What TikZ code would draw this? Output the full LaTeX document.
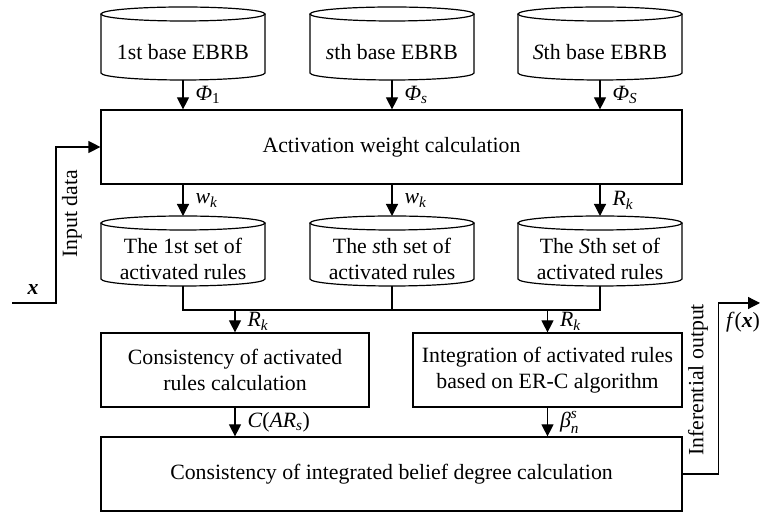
\documentclass[tikz,border=0pt]{standalone}
\usepackage{amsmath}
\usepackage{fontspec}
\setmainfont{Liberation Serif}
\usetikzlibrary{arrows.meta,calc}

% cylinder outline round a text node: #2 = centre of the top ellipse, #3 = end of the sides
\newcommand{\dbcyl}[3]{%
  \draw ($(#1)+(0,#2)$) ellipse[x radius=82, y radius=7];
  \draw ($(#1)+(-82,#2)$) -- ($(#1)+(-82,#3)$) arc[start angle=180, end angle=360, x radius=82, y radius=7] -- ($(#1)+(82,#2)$);
  \coordinate (#1-top) at ($(#1)+(0,#2+7)$);
  \coordinate (#1-bot) at ($(#1)+(0,#3-7)$);
}

\begin{document}
\begin{tikzpicture}[x=1pt, y=1pt, line width=1.2pt,
  font=\fontsize{21.8}{26}\selectfont,
  >={Triangle[length=12pt,width=12pt]},
  box/.style={draw, minimum height=74, align=center, inner sep=0pt},
  db/.style={minimum width=164, align=center, inner sep=0pt},
  lbl/.style={midway, right, xshift=10pt, inner sep=2pt}]
  \useasboundingbox (0,0) rectangle (760,513);

  % Base EBRBs
  \node[db] (b1) at (183,461) {1st base EBRB};
  \node[db] (b2) at (392,461) {\textit{s}th base EBRB};
  \node[db] (b3) at (600,461) {\textit{S}th base EBRB};
  \foreach \n in {b1,b2,b3} {\dbcyl{\n}{38}{-21}}

  % Activation weights
  \node[box, minimum width=581] (act) at (391.5,366) {Activation weight calculation};

  \draw[->] (b1-bot) -- (b1-bot |- act.north) node[lbl] {$\textit{Φ}_{\text{1}}$};
  \draw[->] (b2-bot) -- (b2-bot |- act.north) node[lbl] {$\textit{Φ}_{\textit{s}}$};
  \draw[->] (b3-bot) -- (b3-bot |- act.north) node[lbl] {$\textit{Φ}_{\textit{S}}$};

  % Activated rule sets
  \node[db] (r1) at (183,254) {The 1st set of\\activated rules};
  \node[db] (r2) at (392,254) {The \textit{s}th set of\\activated rules};
  \node[db] (r3) at (600,254) {The \textit{S}th set of\\activated rules};
  \foreach \n in {r1,r2,r3} {\dbcyl{\n}{36}{-20}}

  \draw[->] (act.south -| r1-top) -- (r1-top) node[lbl] {$\textit{w}_{\textit{k}}$};
  \draw[->] (act.south -| r2-top) -- (r2-top) node[lbl] {$\textit{w}_{\textit{k}}$};
  \draw[->] (act.south -| r3-top) -- (r3-top) node[lbl] {$\textit{R}_{\textit{k}}$};

  % Input
  \coordinate (xin) at (12,210);
  \draw[->] (xin) -- ++(44,0) |- (act.west);
  \node (xlab) at (33,223) {\textbf{\textit{x}}};
  \node[rotate=90] (inlab) at (72,299) {Input data};

  % Consistency and ER-C integration
  \node[box, minimum width=268] (cons) at (235,143) {Consistency of activated\\rules calculation};
  \node[box, minimum width=269] (integ) at (547.5,143) {Integration of activated rules\\based on ER-C algorithm};

  \coordinate (merge) at ($(r2-bot)+(0,-24)$);
  \draw (r1-bot) |- (merge) -| (r3-bot);
  \draw (r2-bot) -- (merge);
  \draw[->] (cons.north |- merge) -- (cons.north) node[lbl] {$\textit{R}_{\textit{k}}$};
  \draw[->] (integ.north |- merge) -- (integ.north) node[lbl] {$\textit{R}_{\textit{k}}$};

  % Belief degree
  \node[box, minimum width=581] (belief) at (391.5,39) {Consistency of integrated belief degree calculation};

  \draw[->] (cons.south) -- (cons.south |- belief.north) node[lbl] {\textit{C}(\textit{AR}$_{\textit{s}}$)};
  \draw[->] (integ.south) -- (integ.south |- belief.north) node[lbl] {$\textit{β}^{\textit{s}}_{\textit{n}}$};

  % Output
  \coordinate (fout) at (760,210);
  \draw[->] (belief.east) -- ++(36,0) |- (fout);
  \node (flab) at (743,191) {\textit{f}(\textbf{\textit{x}})};
  \node[rotate=90] (outlab) at (698,133) {Inferential output};
\end{tikzpicture}
\end{document}
